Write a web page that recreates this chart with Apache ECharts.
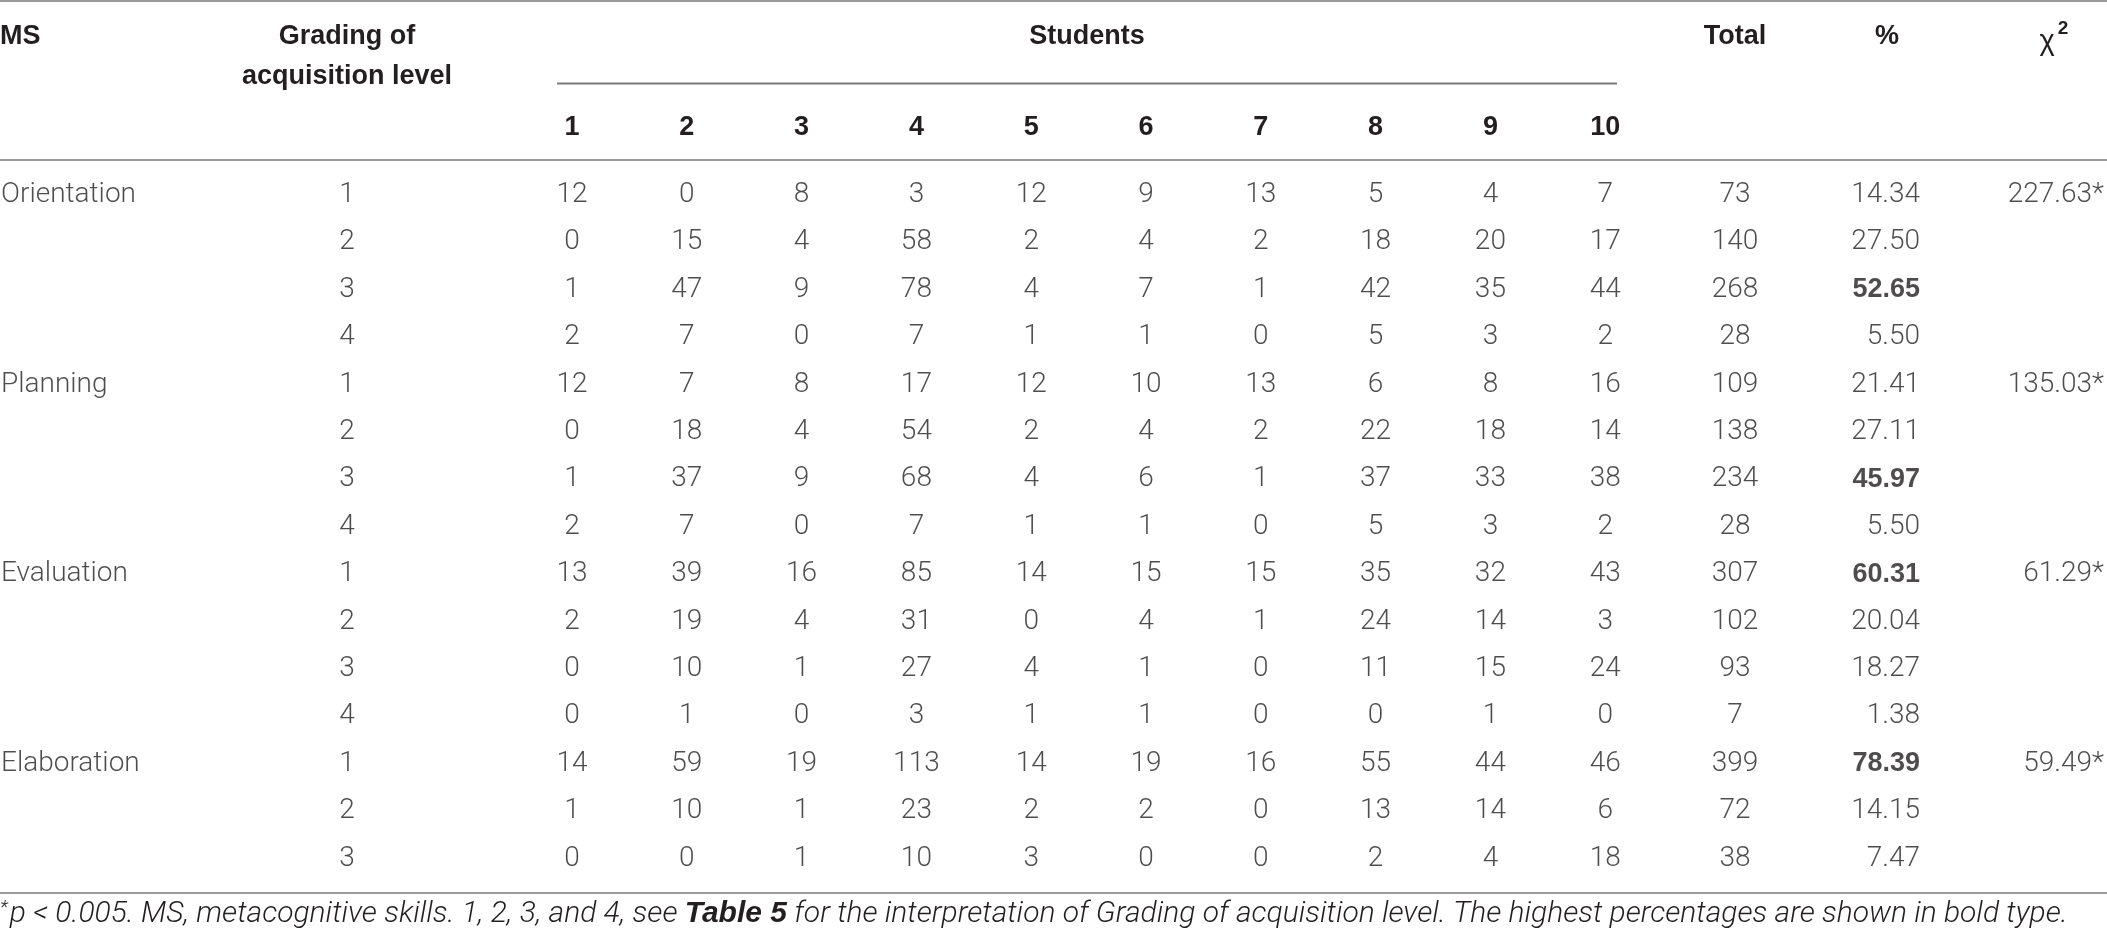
<!DOCTYPE html>
<html>
<head>
<meta charset="utf-8">
<script src="https://cdn.jsdelivr.net/npm/echarts@6/dist/echarts.min.js"></script>
<style>
  html, body { margin: 0; padding: 0; background: #fff; }
  #main { width: 2107px; height: 937px; }
</style>
</head>
<body>
<div id="main"></div>
<script>
// table data
var skills = ['Orientation', 'Planning', 'Evaluation', 'Elaboration'];
var grades = [[1, 2, 3, 4], [1, 2, 3, 4], [1, 2, 3, 4], [1, 2, 3]];
var students = ['1', '2', '3', '4', '5', '6', '7', '8', '9', '10'];
var counts = [
    [12, 0, 8, 3, 12, 9, 13, 5, 4, 7],
    [0, 15, 4, 58, 2, 4, 2, 18, 20, 17],
    [1, 47, 9, 78, 4, 7, 1, 42, 35, 44],
    [2, 7, 0, 7, 1, 1, 0, 5, 3, 2],
    [12, 7, 8, 17, 12, 10, 13, 6, 8, 16],
    [0, 18, 4, 54, 2, 4, 2, 22, 18, 14],
    [1, 37, 9, 68, 4, 6, 1, 37, 33, 38],
    [2, 7, 0, 7, 1, 1, 0, 5, 3, 2],
    [13, 39, 16, 85, 14, 15, 15, 35, 32, 43],
    [2, 19, 4, 31, 0, 4, 1, 24, 14, 3],
    [0, 10, 1, 27, 4, 1, 0, 11, 15, 24],
    [0, 1, 0, 3, 1, 1, 0, 0, 1, 0],
    [14, 59, 19, 113, 14, 19, 16, 55, 44, 46],
    [1, 10, 1, 23, 2, 2, 0, 13, 14, 6],
    [0, 0, 1, 10, 3, 0, 0, 2, 4, 18]
];
var totals = [73, 140, 268, 28, 109, 138, 234, 28, 307, 102, 93, 7, 399, 72, 38];
var percents = ['14.34', '27.50', '52.65', '5.50', '21.41', '27.11', '45.97', '5.50',
                '60.31', '20.04', '18.27', '1.38', '78.39', '14.15', '7.47'];
var chiSquare = ['227.63*', '135.03*', '61.29*', '59.49*'];

var ink = '#231f20';
var rule = '#9a9a9a';
var lightFont = 'Roboto';
var boldFont = 'Liberation Sans';

// row bookkeeping
var rowIds = [];
var gradeData = [], msData = [], chiData = [], totalData = [], pctData = [], cellData = [];
var r = 0;
grades.forEach(function (g, gi) {
    msData.push([0, r, skills[gi]]);
    chiData.push([0, r, chiSquare[gi]]);
    // highest percentage of the group in bold
    var best = r;
    for (var j = 0; j < g.length; j++) {
        if (parseFloat(percents[r + j]) > parseFloat(percents[best])) best = r + j;
    }
    for (var j = 0; j < g.length; j++) {
        var row = r + j;
        rowIds.push(String(row));
        gradeData.push([0, row, g[j]]);
        totalData.push([0, row, totals[row]]);
        pctData.push([0, row, row === best ? '{b|' + percents[row] + '}' : percents[row]]);
        counts[row].forEach(function (v, k) { cellData.push([k, row, v]); });
    }
    r += g.length;
});

var gridTop = 171.3, gridH = 711;
var grids = [
    { left: 0, width: 2 },        // MS
    { left: 297, width: 100 },    // grading
    { left: 514.6, width: 1148 }, // students
    { left: 1685, width: 100 },   // total
    { left: 1918, width: 4 },     // %
    { left: 2102, width: 4 }      // chi2
].map(function (g) { g.top = gridTop; g.height = gridH; return g; });

var xAxes = grids.map(function (g, i) {
    if (i === 2) {
        return {
            gridIndex: i, type: 'category', data: students, position: 'top',
            axisLine: { show: false }, axisTick: { show: false }, splitLine: { show: false },
            axisLabel: { color: ink, fontFamily: boldFont, fontWeight: 'bold', fontSize: 27, lineHeight: 27, margin: 30 }
        };
    }
    return { gridIndex: i, type: 'category', data: ['c'], show: false };
});
var yAxes = grids.map(function (g, i) {
    return { gridIndex: i, type: 'category', data: rowIds, inverse: true, show: false };
});

function cells(gi, data, label) {
    return {
        type: 'scatter', xAxisIndex: gi, yAxisIndex: gi, symbolSize: 1, silent: true,
        itemStyle: { color: 'rgba(0,0,0,0)' },
        data: data,
        label: Object.assign({
            show: true, position: 'inside', color: ink,
            fontFamily: lightFont, fontWeight: 300, fontSize: 28,
            formatter: function (p) { return String(p.value[2]); }
        }, label || {})
    };
}

var myChart = echarts.init(document.getElementById('main'));
myChart.setOption({
    backgroundColor: '#fff',
    animation: false,
    grid: grids,
    xAxis: xAxes,
    yAxis: yAxes,
    series: [
        cells(0, msData, { align: 'left' }),
        cells(1, gradeData),
        cells(2, cellData),
        cells(3, totalData),
        cells(4, pctData, {
            align: 'right',
            rich: { b: { fontFamily: boldFont, fontWeight: 'bold', fontSize: 27, color: ink } }
        }),
        cells(5, chiData, { align: 'right' })
    ],
    graphic: [
        { type: 'line', shape: { x1: 0, y1: 1, x2: 2107, y2: 1 }, style: { stroke: rule, lineWidth: 2 } },
        { type: 'line', shape: { x1: 0, y1: 160, x2: 2107, y2: 160 }, style: { stroke: rule, lineWidth: 2 } },
        { type: 'line', shape: { x1: 557, y1: 83.5, x2: 1617, y2: 83.5 }, style: { stroke: '#7a7a7a', lineWidth: 2 } },
        { type: 'line', shape: { x1: 0, y1: 893, x2: 2107, y2: 893 }, style: { stroke: rule, lineWidth: 2 } },
        { type: 'text', left: 0, top: 23, style: { text: 'MS', fill: ink, font: 'bold 27px "Liberation Sans"' } },
        { type: 'text', x: 347, y: 57, style: { text: 'Grading of\nacquisition level', fill: ink, font: 'bold 27px "Liberation Sans"', lineHeight: 40, align: 'center', verticalAlign: 'middle' } },
        { type: 'text', x: 1087, y: 37, style: { text: 'Students', fill: ink, font: 'bold 27px "Liberation Sans"', align: 'center', verticalAlign: 'middle' } },
        { type: 'text', x: 1735, y: 37, style: { text: 'Total', fill: ink, font: 'bold 27px "Liberation Sans"', align: 'center', verticalAlign: 'middle' } },
        { type: 'text', x: 1887, y: 37, style: { text: '%', fill: ink, font: 'bold 27px "Liberation Sans"', align: 'center', verticalAlign: 'middle' } },
        { type: 'text', x: 2054, y: 38, style: {
            text: '{x|χ}{s|2}', align: 'center', verticalAlign: 'middle',
            rich: {
                x: { fill: ink, fontFamily: boldFont, fontSize: 29, fontWeight: 'normal', verticalAlign: 'bottom' },
                s: { fill: ink, fontFamily: boldFont, fontWeight: 'bold', fontSize: 19, padding: [0, 0, 18, 3], verticalAlign: 'bottom' }
            }
        } },
        { type: 'text', left: 0, top: 899, style: {
            text: '{s|*}{i|p < 0.005. MS, metacognitive skills. 1, 2, 3, and 4, see }{b|Table 5}{i| for the interpretation of Grading of acquisition level. The highest percentages are shown in bold type.}',
            rich: {
                s: { fill: ink, fontFamily: lightFont, fontStyle: 'italic', fontWeight: 300, fontSize: 19, padding: [0, 2, 11, 0] },
                i: { fill: ink, fontFamily: lightFont, fontStyle: 'italic', fontWeight: 300, fontSize: 30 },
                b: { fill: ink, fontFamily: boldFont, fontStyle: 'italic', fontWeight: 'bold', fontSize: 30 }
            }
        } }
    ]
});
</script>
</body>
</html>
